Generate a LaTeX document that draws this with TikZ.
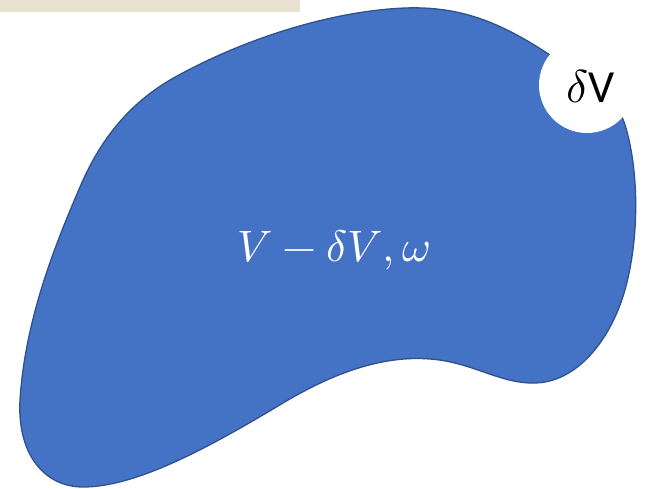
\documentclass[tikz,border=0pt]{standalone}
\usepackage{amsmath}
\usepackage{fontspec}
\usepackage{unicode-math}
\setmathfont{Latin Modern Math}
\newfontfamily\calibri{Carlito}
\usepackage{tikz}
\usetikzlibrary{positioning}
\definecolor{blobfill}{HTML}{4472C4}
\definecolor{blobline}{HTML}{2F528F}
\definecolor{paper}{HTML}{E9E1D0}

\begin{document}
\begin{tikzpicture}[
            x=1pt, y=-1pt,
            blob/.style={fill=blobfill,draw=blobline,line width=1.3pt},
            hole/.style={circle,fill=white,inner sep=0pt,minimum size=96pt},
            volLabel/.style={text=white,font=\fontsize{44}{52}\selectfont},
            holeLabel/.style={text=black,font=\fontsize{46}{54}\selectfont},
        ]
            \useasboundingbox (0,0) rectangle (646,488);

            %--- Paper strip (top left) ---%
            \fill[paper] (0,0) rectangle (300,12);

            %--- Volume V - dV ---%
            \draw[blob] (550,55)
                .. controls (500,22) and (460,6) .. (405,8)
                .. controls (330,11) and (240,40) .. (170,80)
                .. controls (128,105) and (100,140) .. (80,187)
                .. controls (55,245) and (25,320) .. (20,400)
                .. controls (17,455) and (45,487) .. (83,487)
                .. controls (135,487) and (205,450) .. (283,403)
                .. controls (330,375) and (380,355) .. (430,359)
                .. controls (472,362) and (500,384) .. (535,383)
                .. controls (575,382) and (605,345) .. (620,305)
                .. controls (637,260) and (642,185) .. (626,128)
                .. controls (615,92) and (590,70) .. cycle;

            %--- Small element dV ---%
            \node[hole] (dV) at (587,85) {};
            \node[holeLabel] (dVtext) at (591,86) {$\delta$\calibri V};

            %--- Label ---%
            \node[volLabel] (vol) at (334,250) {$V-\delta V,\omega$};

        \end{tikzpicture}
\end{document}
